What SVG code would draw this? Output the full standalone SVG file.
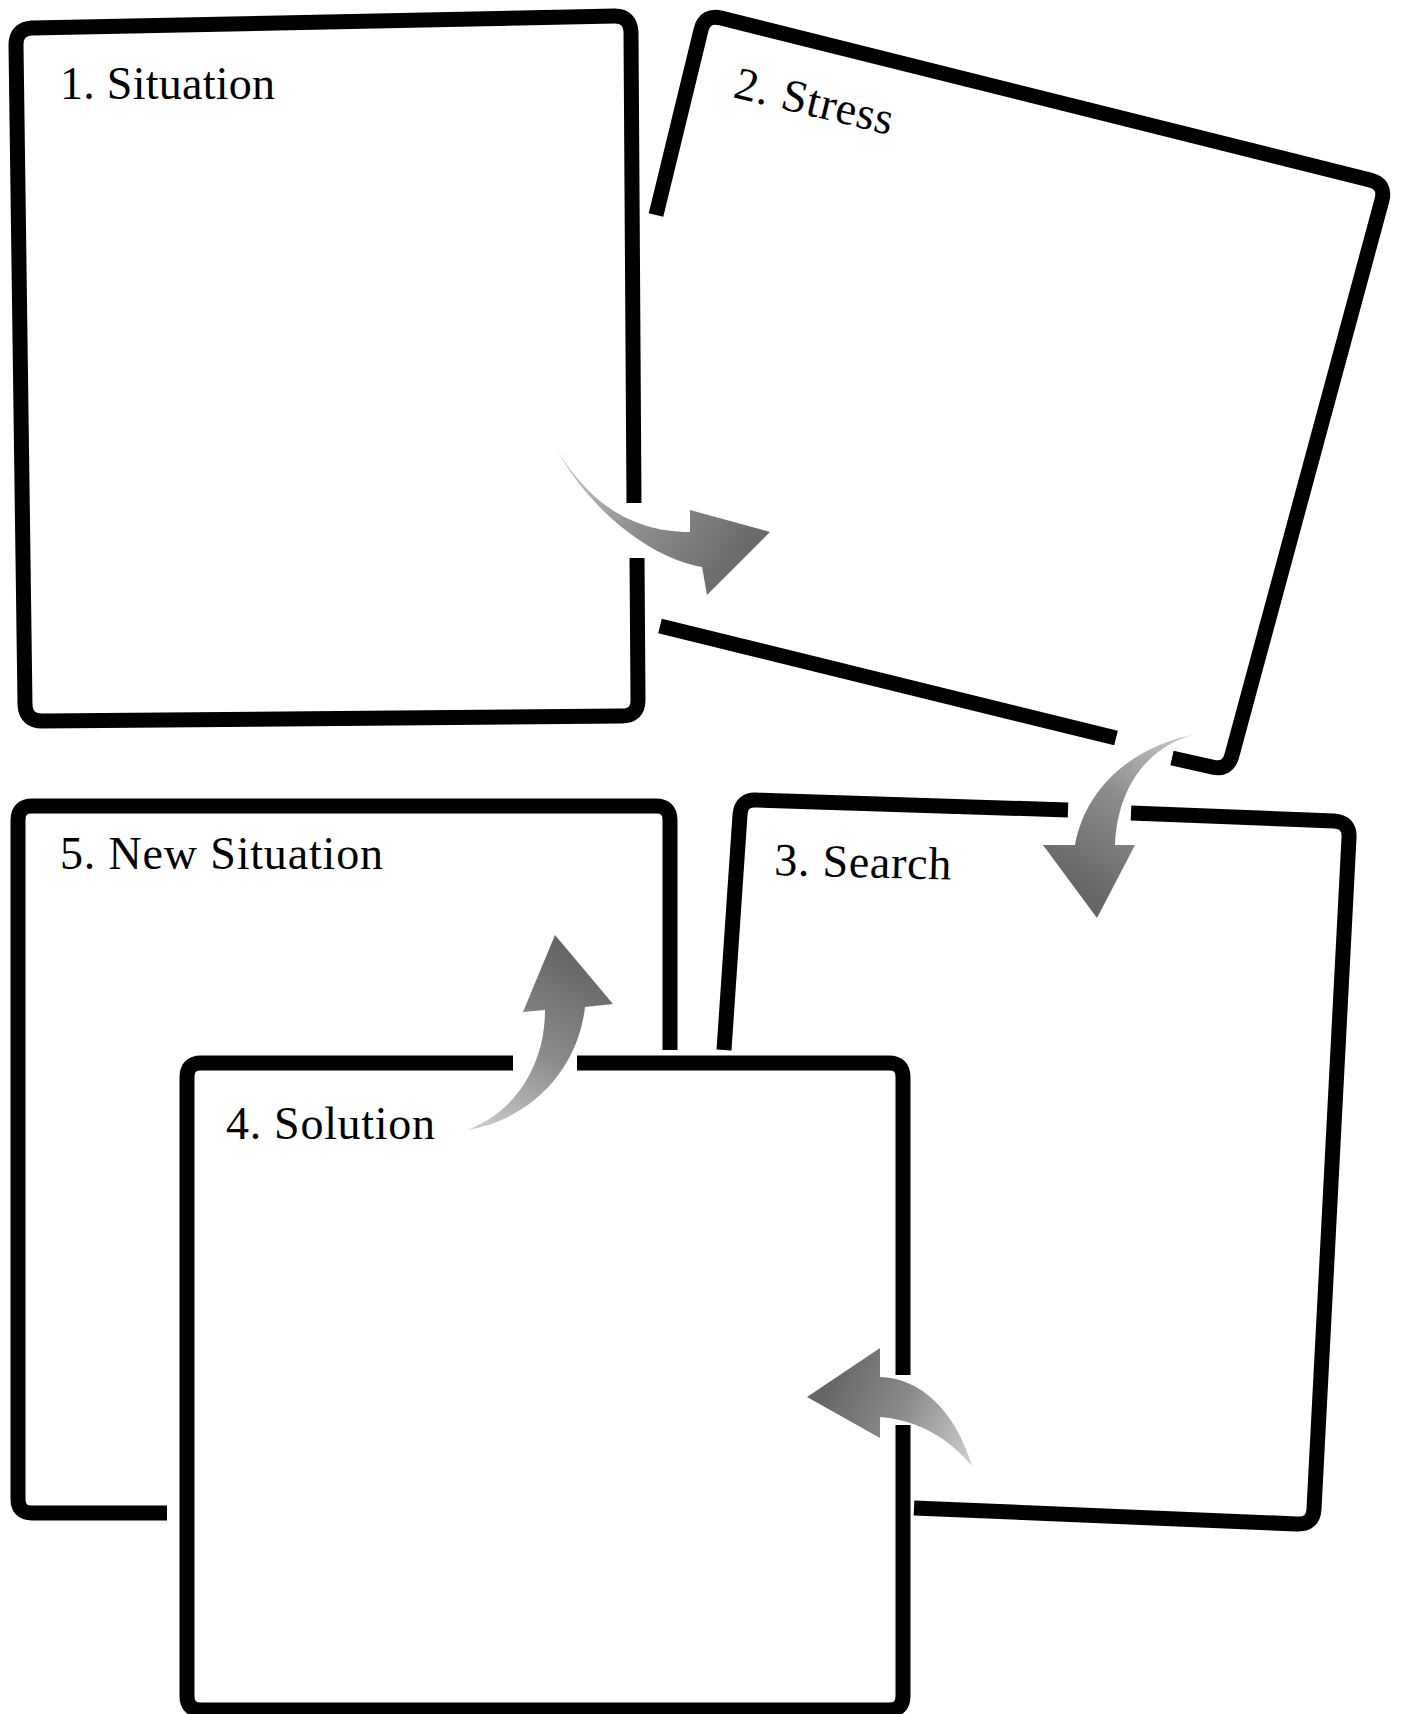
<svg xmlns="http://www.w3.org/2000/svg" width="1403" height="1714" viewBox="0 0 1403 1714">
<style>
.frame{fill:none;stroke:#000;stroke-width:15;stroke-linejoin:round;stroke-linecap:butt}
.lbl{font-family:"Liberation Serif","Times New Roman",serif;font-size:46px;fill:#000}
</style>
<defs>
<linearGradient id="g12" gradientUnits="userSpaceOnUse" x1="553" y1="443" x2="740" y2="560"><stop offset="0" stop-color="#d0d0d0"/><stop offset="0.5" stop-color="#909090"/><stop offset="1" stop-color="#6a6a6a"/></linearGradient>
<linearGradient id="g23" gradientUnits="userSpaceOnUse" x1="1202" y1="733" x2="1097" y2="900"><stop offset="0" stop-color="#d0d0d0"/><stop offset="0.5" stop-color="#8c8c8c"/><stop offset="1" stop-color="#666"/></linearGradient>
<linearGradient id="g34" gradientUnits="userSpaceOnUse" x1="972" y1="1466" x2="820" y2="1397"><stop offset="0" stop-color="#d0d0d0"/><stop offset="0.5" stop-color="#8c8c8c"/><stop offset="1" stop-color="#666"/></linearGradient>
<linearGradient id="g45" gradientUnits="userSpaceOnUse" x1="467" y1="1130" x2="560" y2="950"><stop offset="0" stop-color="#d0d0d0"/><stop offset="0.5" stop-color="#8c8c8c"/><stop offset="1" stop-color="#666"/></linearGradient>
</defs>
<rect x="0" y="0" width="1403" height="1714" fill="#fff"/>
<g id="node1">
<path class="frame" d="M 634 503 L 631 32 Q 630 16 615 16 L 32 28 Q 16 29 16 45 L 25 705 Q 26 721 42 721 L 622 716 Q 638 716 638 700 L 637 558"/>
<text class="lbl" x="60" y="99" textLength="215" lengthAdjust="spacing">1. Situation</text>
</g>
<g id="node2">
<path class="frame" d="M 656 215 L 701 30 Q 705 14 721 18 L 1370 180 Q 1386 184 1382 200 L 1232 755 Q 1228 771 1212 767 L 1172 758"/>
<path class="frame" d="M 660 626 L 1116 738"/>
<text class="lbl" x="732" y="97" textLength="162" lengthAdjust="spacing" transform="rotate(13.5 732 97)">2. Stress</text>
</g>
<g id="node3">
<path class="frame" d="M 1068 810 L 757 800 Q 741 799 740 815 L 724 1050"/>
<path class="frame" d="M 1131 813 L 1334 821 Q 1350 822 1349 838 L 1314 1509 Q 1313 1525 1297 1524 L 914 1508"/>
<text class="lbl" x="774" y="875" textLength="177" lengthAdjust="spacing" transform="rotate(1.5 774 875)">3. Search</text>
</g>
<g id="node5">
<path class="frame" d="M 670 1050 L 670 820 Q 670 806 656 806 L 32 806 Q 18 806 18 820 L 18 1499 Q 18 1513 32 1513 L 167 1513"/>
<text class="lbl" x="60" y="869" textLength="323" lengthAdjust="spacing">5. New Situation</text>
</g>
<g id="node4">
<path class="frame" d="M 513 1063 L 201 1063 Q 187 1063 187 1077 L 187 1696 Q 187 1710 201 1710 L 889 1710 Q 903 1710 903 1696 L 903 1425"/>
<path class="frame" d="M 903 1375 L 903 1077 Q 903 1063 889 1063 L 577 1063"/>
<text class="lbl" x="226" y="1139" textLength="209" lengthAdjust="spacing">4. Solution</text>
</g>
<g id="connectors">
<path id="a12" fill="url(#g12)" d="M 553 443 C 580 490, 620 532, 690 532 L 690 510 L 770 532 L 707 595 L 702 567 C 650 558, 590 510, 557 450 Z"/>
<path id="a23" fill="url(#g23)" d="M 1202 733 C 1160 740, 1118 775, 1115 845 L 1135 845 L 1097 918 L 1043 845 L 1075 845 C 1085 790, 1130 745, 1202 733 Z"/>
<path id="a34" fill="url(#g34)" d="M 807 1397 L 880 1348 L 880 1377 C 920 1378, 955 1410, 972 1466 C 950 1440, 920 1420, 880 1417 L 880 1438 Z"/>
<path id="a45" fill="url(#g45)" d="M 555 935 L 613 1004 L 585 1007 C 578 1070, 530 1120, 467 1130 C 520 1110, 545 1060, 545 1010 L 523 1012 Z"/>
</g>
</svg>
